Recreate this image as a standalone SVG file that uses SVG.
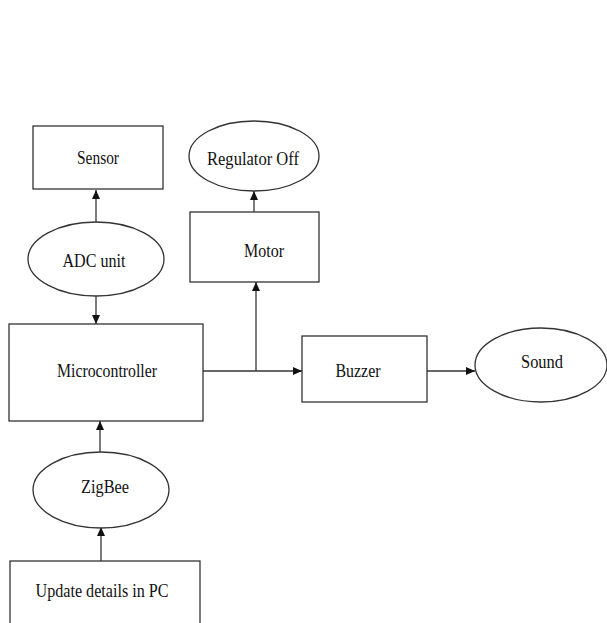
<svg xmlns="http://www.w3.org/2000/svg" width="607" height="623" viewBox="0 0 607 623">
<defs>
<marker id="ah" markerUnits="userSpaceOnUse" markerWidth="9" markerHeight="8" refX="9" refY="4" orient="auto">
<path d="M0,0 L9,4 L0,8 z" fill="#111"/>
</marker>
<style>
.box{fill:#fff;stroke:#333;stroke-width:1.3}
.lbl{font-family:"Liberation Serif","Times New Roman",serif;font-size:19px;fill:#111;text-anchor:middle}
.con{stroke:#333;stroke-width:1.3;fill:none;marker-end:url(#ah)}
</style>
</defs>
<rect width="607" height="623" fill="#fff"/>
<g id="connectors">
<line class="con" x1="96" y1="222" x2="96" y2="190"/>
<line class="con" x1="96" y1="296" x2="96" y2="324"/>
<line class="con" x1="100" y1="452" x2="100" y2="421"/>
<line class="con" x1="101" y1="561" x2="101" y2="527"/>
<line class="con" x1="203" y1="371" x2="302" y2="371"/>
<line class="con" x1="256" y1="371" x2="256" y2="282"/>
<line class="con" x1="254" y1="212" x2="254" y2="191"/>
<line class="con" x1="427" y1="371" x2="475" y2="371"/>
</g>
<g id="sensor">
<rect class="box" x="33" y="126" width="130" height="63"/>
<text class="lbl" x="98" y="164" textLength="42" lengthAdjust="spacingAndGlyphs">Sensor</text>
</g>
<g id="regulator">
<ellipse class="box" cx="254" cy="156" rx="65" ry="35"/>
<text class="lbl" x="253" y="165" textLength="92" lengthAdjust="spacingAndGlyphs">Regulator Off</text>
</g>
<g id="motor">
<rect class="box" x="190" y="212" width="129" height="70"/>
<text class="lbl" x="264" y="257" textLength="40" lengthAdjust="spacingAndGlyphs">Motor</text>
</g>
<g id="adc">
<ellipse class="box" cx="96" cy="259" rx="68" ry="37"/>
<text class="lbl" x="94" y="267" textLength="63" lengthAdjust="spacingAndGlyphs">ADC unit</text>
</g>
<g id="microcontroller">
<rect class="box" x="9" y="324" width="194" height="97"/>
<text class="lbl" x="107" y="377" textLength="100" lengthAdjust="spacingAndGlyphs">Microcontroller</text>
</g>
<g id="buzzer">
<rect class="box" x="302" y="336" width="125" height="66"/>
<text class="lbl" x="358" y="377" textLength="45" lengthAdjust="spacingAndGlyphs">Buzzer</text>
</g>
<g id="sound">
<ellipse class="box" cx="541" cy="365" rx="66" ry="37"/>
<text class="lbl" x="542" y="368" textLength="42" lengthAdjust="spacingAndGlyphs">Sound</text>
</g>
<g id="zigbee">
<ellipse class="box" cx="101" cy="490" rx="68" ry="38"/>
<text class="lbl" x="105" y="493" textLength="48" lengthAdjust="spacingAndGlyphs">ZigBee</text>
</g>
<g id="update">
<rect class="box" x="10" y="561" width="190" height="70"/>
<text class="lbl" x="102" y="597" textLength="133" lengthAdjust="spacingAndGlyphs">Update details in PC</text>
</g>
</svg>
